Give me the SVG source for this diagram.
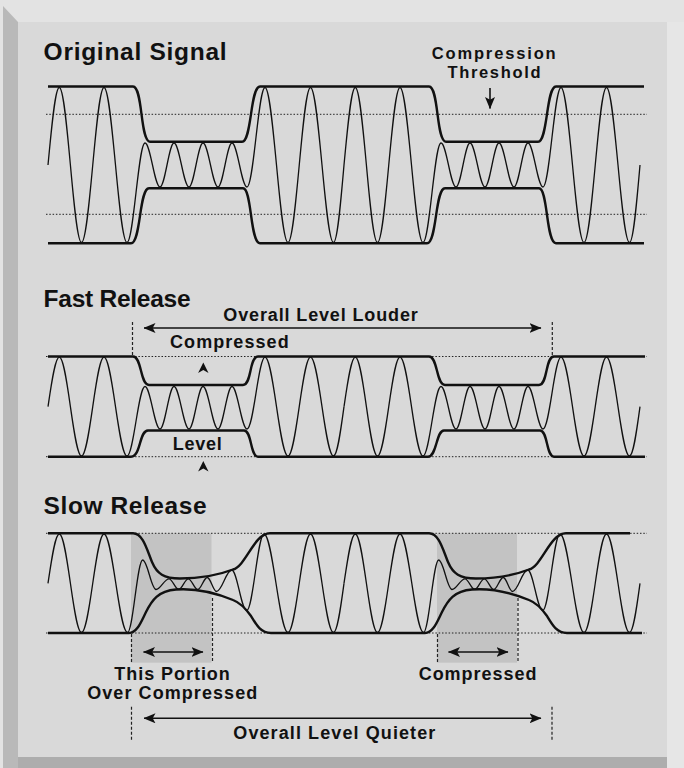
<svg xmlns="http://www.w3.org/2000/svg" width="684" height="768" viewBox="0 0 684 768">
<style>
.env{fill:none;stroke:#111;stroke-width:2.4;stroke-linejoin:round}
.sig{fill:none;stroke:#111;stroke-width:1.3}
.dot{stroke:#222;stroke-width:1;stroke-dasharray:1.5 1.8}
.dash{stroke:#222;stroke-width:1.2;stroke-dasharray:3 2}
.arr{stroke:#111;stroke-width:1.6;marker-start:url(#ah);marker-end:url(#ah)}
.t{font-family:"Liberation Sans",Arial,sans-serif;font-weight:bold;fill:#111}
.title{font-size:24.5px}
.lbl{font-size:18px}
.lbs{font-size:16.5px}
.shade{fill:#c3c3c3}
</style>
<defs>
<marker id="ah" viewBox="0 0 12 10" refX="11.5" refY="5" markerWidth="12" markerHeight="10" markerUnits="userSpaceOnUse" orient="auto-start-reverse"><path d="M0,0 L12,5 L0,10 L2.8,5 Z" fill="#111"/></marker>
<path id="s1" class="sig" d="M48,165 C51.8,124.4 55.2,87.5 59.3,87.5 C67.4,87.5 73.4,242.5 81.5,242.5 C89.7,242.5 95.8,87.5 104,87.5 C112.4,87.5 118.6,242.5 127,242.5 C133.6,242.5 138.4,143 145,143 C150.5,143 154.5,187 160,187 C165.1,187 168.9,143 174,143 C179.5,143 183.5,187 189,187 C194.1,187 197.9,143 203,143 C208.5,143 212.5,187 218,187 C223.1,187 226.9,143 232,143 C237.5,143 241.5,187 247,187 C253.6,187 258.4,87.5 265,87.5 C273.4,87.5 279.6,242.5 288,242.5 C296.2,242.5 302.3,87.5 310.5,87.5 C318.9,87.5 325.1,242.5 333.5,242.5 C337.3,242.5 340.5,205.6 344,165"/>
<path id="s2" class="sig" d="M48,406.7 C51.8,380.8 55.2,357.2 59.3,357.2 C67.4,357.2 73.4,456 81.5,456 C89.7,456 95.8,357.2 104,357.2 C112.4,357.2 118.6,456 127,456 C133.6,456 138.4,386.5 145,386.5 C150.5,386.5 154.5,429 160,429 C165.1,429 168.9,386.5 174,386.5 C179.5,386.5 183.5,429 189,429 C194.1,429 197.9,386.5 203,386.5 C208.5,386.5 212.5,429 218,429 C223.1,429 226.9,386.5 232,386.5 C237.5,386.5 241.5,429 247,429 C253.6,429 258.4,357.2 265,357.2 C273.4,357.2 279.6,456 288,456 C296.2,456 302.3,357.2 310.5,357.2 C318.9,357.2 325.1,456 333.5,456 C337.3,456 340.5,432.5 344,406.7"/>
<path id="s3" class="sig" d="M48,583.3 C51.8,557.5 55.2,534 59.3,534 C67.4,534 73.4,632.5 81.5,632.5 C89.7,632.5 95.8,534 104,534 C112.6,534 119,632.5 127.5,632.5 C133,632.5 137.2,560 142.7,560 C147.5,560 151.2,589.5 156,589.5 C160.7,589.5 164.3,578.8 169,578.8 C172.5,578.8 175.2,589.3 178.7,589.3 C182.2,589.3 184.8,578.8 188.3,578.8 C191.7,578.8 194.3,589.5 197.7,589.5 C201.2,589.5 203.8,577.5 207.3,577.5 C210.6,577.5 213.2,591.5 216.5,591.5 C222,591.5 226.2,570 231.7,570 C237.2,570 241.2,610.5 246.7,610.5 C253,610.5 257.7,534 264,534 C272.7,534 279.3,632.5 288,632.5 C296.2,632.5 302.3,534 310.5,534 C318.9,534 325.1,632.5 333.5,632.5 C337.3,632.5 340.5,609.1 344,583.3"/>
</defs>

<g id="frame">
<rect x="0" y="0" width="684" height="768" fill="#e3e3e3"/>
<polygon points="3,6 18,22 18,768 3,768" fill="#b9b9b9"/>
<polygon points="18,757 667,757 679,768 18,768" fill="#adadad"/>
<rect x="667" y="22" width="17" height="746" fill="#e6e6e6"/>
<rect x="18" y="22" width="649" height="735" fill="#d9d9d9"/>
</g>

<g id="original-signal">
<text class="t title" x="43.6" y="60" textLength="183" lengthAdjust="spacing">Original Signal</text>
<line class="dot" x1="46" y1="114.3" x2="647" y2="114.3"/>
<line class="dot" x1="46" y1="214.3" x2="647" y2="214.3"/>
<use href="#s1"/>
<use href="#s1" transform="translate(296 0)"/>
<path class="env" d="M48,86.5 H133 C143,86.5 140,141.7 150,141.7 H242 C252,141.7 250,86.5 260,86.5 H429 C439,86.5 436,141.7 446,141.7 H538 C548,141.7 546,86.5 556,86.5 H644"/>
<path class="env" d="M48,243.3 H131 C141,243.3 139,188.3 149,188.3 H243 C252,188.3 250,243.3 260,243.3 H427 C437,243.3 435,188.3 445,188.3 H539 C548,188.3 546,243.3 556,243.3 H644"/>
<g id="threshold-label">
<text class="t lbs" x="431.7" y="59" textLength="124" lengthAdjust="spacing">Compression</text>
<text class="t lbs" x="447.5" y="78" textLength="93" lengthAdjust="spacing">Threshold</text>
<line stroke="#111" stroke-width="1.6" x1="490" y1="88" x2="490" y2="108.5" marker-end="url(#ah)"/>
</g>
</g>

<g id="fast-release">
<text class="t title" x="43.6" y="306.7" textLength="147" lengthAdjust="spacing">Fast Release</text>
<line class="dot" x1="46" y1="356.5" x2="647" y2="356.5"/>
<line class="dot" x1="46" y1="456.7" x2="647" y2="456.7"/>
<use href="#s2"/>
<use href="#s2" transform="translate(296 0)"/>
<path class="env" d="M48,356.5 H133 C142,356.5 140,385 149,385 H243 C252,385 249,356.5 258,356.5 H429 C438,356.5 436,385 445,385 H539 C548,385 545,356.5 554,356.5 H645"/>
<path class="env" d="M48,456.7 H131 C141,456.7 139,430.5 148,430.5 H244 C252,430.5 250,456.7 258,456.7 H428 C437,456.7 436,430.5 444,430.5 H540 C548,430.5 546,456.7 554,456.7 H645"/>
<line class="dash" x1="132.5" y1="322" x2="132.5" y2="355"/>
<line class="dash" x1="552.3" y1="322" x2="552.3" y2="355"/>
<line class="arr" x1="144" y1="328" x2="541" y2="328"/>
<text class="t lbl" x="223.3" y="321" textLength="194.5" lengthAdjust="spacing">Overall Level Louder</text>
<text class="t lbl" x="170" y="348.3" textLength="118.7" lengthAdjust="spacing">Compressed</text>
<path d="M203.3,362.5 L208.5,373 L203.3,370 L198.1,373 Z" fill="#111"/>
<text class="t lbl" x="172.7" y="450" textLength="49" lengthAdjust="spacing">Level</text>
<path d="M203.3,461 L208.5,471.5 L203.3,468.5 L198.1,471.5 Z" fill="#111"/>
</g>

<g id="slow-release">
<text class="t title" x="43.6" y="514.3" textLength="163" lengthAdjust="spacing">Slow Release</text>
<rect class="shade" x="131" y="533.3" width="80.5" height="129.4"/>
<rect class="shade" x="437" y="533.3" width="80" height="129.4"/>
<line class="dot" x1="46" y1="533.3" x2="647" y2="533.3"/>
<line class="dot" x1="46" y1="633" x2="647" y2="633"/>
<use href="#s3"/>
<use href="#s3" transform="translate(296 0)"/>
<path class="env" d="M48,533.3 H133 C143,533.3 147,550 152,562 C157,574 164,578.3 180,578.5 C200,578.5 220,574.5 233,569.5 C246,566 254,533.3 270,533.3 H429 C439,533.3 443,550 448,562 C453,574 460,578.3 476,578.5 C496,578.5 516,574.5 529,569.5 C542,566 550,533.3 566,533.3 H630"/>
<path class="env" d="M48,633 H129 C137,633 141,622 146,612 C152,600 158,591 176,589.5 C196,588 216,593 233,600 C241,603 246,609 251,616 C257,626 261,633 271,633 H425 C433,633 437,622 442,612 C448,600 454,591 472,589.5 C492,588 512,593 529,600 C537,603 542,609 547,616 C553,626 557,633 567,633 H642"/>
<line class="dash" x1="131.5" y1="634" x2="131.5" y2="662.7"/>
<line class="dash" x1="212.5" y1="598" x2="212.5" y2="662.7"/>
<line class="dash" x1="437.5" y1="634" x2="437.5" y2="662.7"/>
<line class="dash" x1="518" y1="598" x2="518" y2="662.7"/>
<line class="arr" x1="143.5" y1="652" x2="203" y2="652"/>
<line class="arr" x1="448.5" y1="652" x2="508" y2="652"/>
<text class="t lbl" x="114.3" y="680" textLength="115.5" lengthAdjust="spacing">This Portion</text>
<text class="t lbl" x="87.2" y="699" textLength="170" lengthAdjust="spacing">Over Compressed</text>
<text class="t lbl" x="418.7" y="680" textLength="117.7" lengthAdjust="spacing">Compressed</text>
<line class="dash" x1="131.5" y1="706.7" x2="131.5" y2="740"/>
<line class="dash" x1="552" y1="706.7" x2="552" y2="741.7"/>
<line class="arr" x1="144" y1="718.3" x2="541" y2="718.3"/>
<text class="t lbl" x="233.3" y="739.3" textLength="202" lengthAdjust="spacing">Overall Level Quieter</text>
</g>
</svg>
